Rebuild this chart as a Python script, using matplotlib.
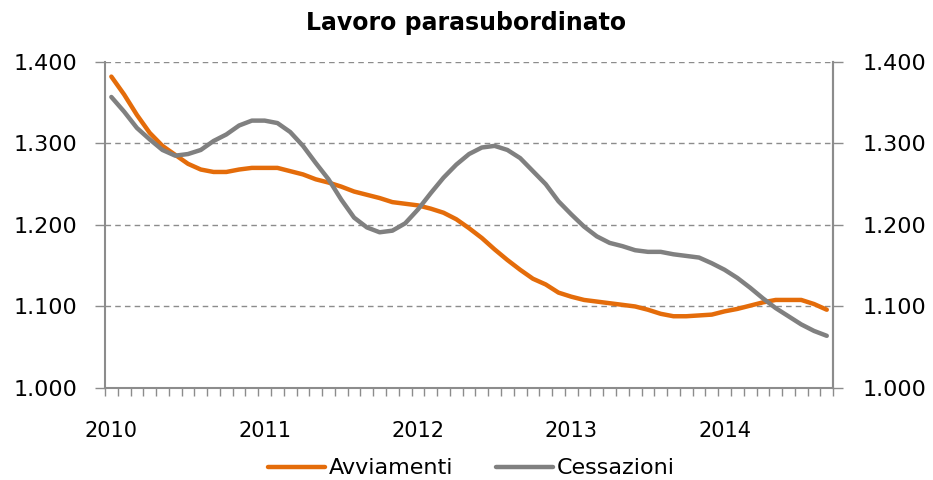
import numpy as np
import matplotlib.pyplot as plt

# monthly series, Jan 2010 - Sep 2014
years = ["2010", "2011", "2012", "2013", "2014"]
avviamenti = [1.382, 1.360, 1.335, 1.313, 1.297, 1.286, 1.275, 1.268, 1.265, 1.265,
              1.268, 1.270, 1.270, 1.270, 1.266, 1.262, 1.256, 1.252, 1.247, 1.241,
              1.237, 1.233, 1.228, 1.226, 1.224, 1.220, 1.215, 1.207, 1.196, 1.184,
              1.170, 1.157, 1.145, 1.134, 1.127, 1.117, 1.112, 1.108, 1.106, 1.104,
              1.102, 1.100, 1.096, 1.091, 1.088, 1.088, 1.089, 1.090, 1.094, 1.097,
              1.101, 1.105, 1.108, 1.108, 1.108, 1.103, 1.096]
cessazioni = [1.357, 1.339, 1.319, 1.305, 1.292, 1.285, 1.287, 1.292, 1.303, 1.311,
              1.322, 1.328, 1.328, 1.325, 1.314, 1.297, 1.276, 1.256, 1.231, 1.209,
              1.197, 1.191, 1.193, 1.202, 1.219, 1.239, 1.258, 1.274, 1.287, 1.295,
              1.297, 1.292, 1.282, 1.266, 1.250, 1.229, 1.213, 1.198, 1.186, 1.178,
              1.174, 1.169, 1.167, 1.167, 1.164, 1.162, 1.160, 1.153, 1.145, 1.135,
              1.123, 1.110, 1.098, 1.088, 1.078, 1.070, 1.064]
yticks = [1.0, 1.1, 1.2, 1.3, 1.4]
ytick_labels = ["1.000", "1.100", "1.200", "1.300", "1.400"]

orange = "#E46C0A"
gray = "#808080"
axis_col = "#8C8C8C"

plt.rcParams['font.family'] = ['DejaVu Sans']

fig = plt.figure(figsize=(9.33, 4.8), dpi=100)
ax = fig.add_axes([0.1125, 0.1917, 0.7805, 0.6793])

n = len(avviamenti)
x = np.arange(n)
ax.plot(x, avviamenti, color=orange, lw=3.2, label="Avviamenti", solid_capstyle='round', zorder=3)
ax.plot(x, cessazioni, color=gray, lw=3.2, label="Cessazioni", solid_capstyle='round', zorder=3)

ax.set_xlim(-0.5, n - 0.5)
ax.set_ylim(1.0, 1.4)

# y axis and grid
ax.set_yticks(yticks)
ax.set_yticklabels(ytick_labels, fontsize=16)
ax.yaxis.grid(True, ls=(0, (4, 3)), color=axis_col, lw=1)
ax.set_axisbelow(True)

# category ticks between months, year labels on January
ax.set_xticks(np.arange(n + 1) - 0.5)
ax.set_xticklabels([])
ax.set_xticks(np.arange(0, n, 12), minor=True)
ax.set_xticklabels(years, minor=True, fontsize=15)
ax.tick_params(axis='x', which='major', length=6, color=axis_col, width=1, direction='out')
ax.tick_params(axis='x', which='minor', length=0, pad=24)
ax.tick_params(axis='y', length=7, color=axis_col, width=1, pad=13)

ax.spines['top'].set_visible(False)
for s in ['left', 'bottom', 'right']:
    ax.spines[s].set_color(axis_col)
    ax.spines[s].set_linewidth(1.5)

ax2 = ax.twinx()
ax2.set_ylim(1.0, 1.4)
ax2.set_yticks(yticks)
ax2.set_yticklabels(ytick_labels, fontsize=16)
ax2.tick_params(axis='y', length=7, color=axis_col, width=1, pad=14)
ax2.spines['top'].set_visible(False)
ax2.spines['right'].set_color(axis_col)
ax2.spines['right'].set_linewidth(1.5)
ax2.spines['left'].set_visible(False)
ax2.spines['bottom'].set_visible(False)

fig.text(0.5, 0.952, "Lavoro parasubordinato", ha='center', va='center',
         fontsize=17, fontweight='bold')

fig.legend(loc='center', bbox_to_anchor=(0.505, 0.024), ncol=2, frameon=False,
           fontsize=16, handlelength=2.6, handletextpad=0.15, columnspacing=1.9)

fig.savefig("out.png", dpi=100)
